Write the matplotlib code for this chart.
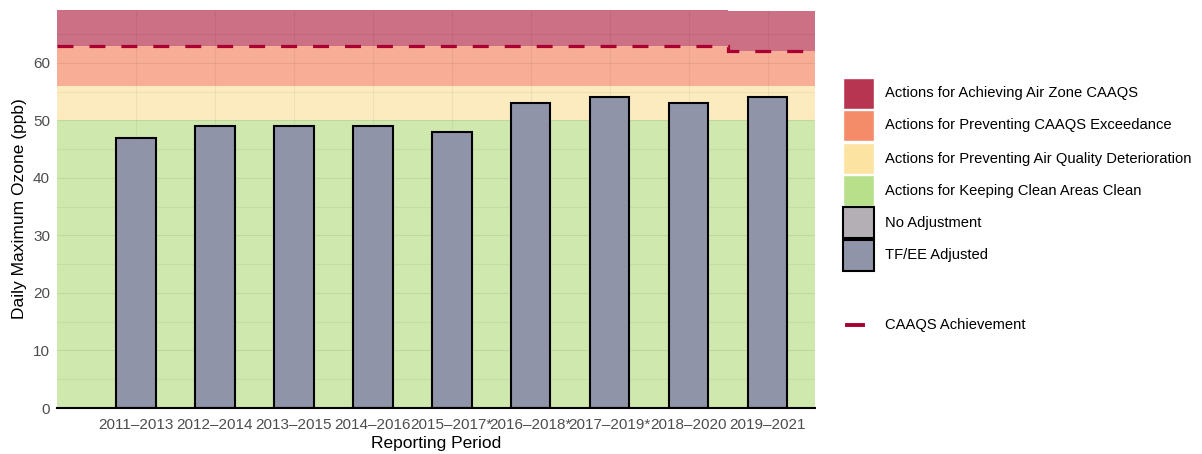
import matplotlib
matplotlib.use("Agg")
import matplotlib.pyplot as plt
import numpy as np
from matplotlib.patches import Rectangle
from matplotlib.lines import Line2D

# --- DATA ---
periods = ["2011\u20132013", "2012\u20132014", "2013\u20132015", "2014\u20132016",
           "2015\u20132017*", "2016\u20132018*", "2017\u20132019*", "2018\u20132020",
           "2019\u20132021"]
ozone = [47, 49, 49, 49, 48, 53, 54, 53, 54]
standard = [63, 63, 63, 63, 63, 63, 63, 63, 62]
band_green = 50
band_yellow = 56
band_top = 69.2

legend_labels = ["Actions for Achieving Air Zone CAAQS",
                 "Actions for Preventing CAAQS Exceedance",
                 "Actions for Preventing Air Quality Deterioration",
                 "Actions for Keeping Clean Areas Clean",
                 "No Adjustment",
                 "TF/EE Adjusted"]

# --- STYLE ---
plt.rcParams['font.family'] = ['Liberation Sans', 'DejaVu Sans']
red_leg, orange_leg, yellow_leg, green_leg = "#B83552", "#F48B69", "#FDE3A1", "#B8E08A"
red_band, orange_band, yellow_band, green_band = "#CC7085", "#F8AE96", "#FDEBC0", "#CFE8AE"
no_adj_col = "#B4AFB5"
tfee_col = "#8F94A8"
line_col = "#A80030"

W, H = 1202, 454
fig = plt.figure(figsize=(W / 100, H / 100), dpi=100)
ax = fig.add_axes([57 / W, 46 / H, (815 - 57) / W, (444 - 46) / H])

x = np.arange(len(periods))
xlo, xhi = -1.0, 8.6
edges = np.concatenate([[xlo], x[:-1] + 0.5, [xhi]])
std_post = np.concatenate([standard, [standard[-1]]])

# bands
ax.fill_between([xlo, xhi], 0, band_green, color=green_band, lw=0, zorder=0)
ax.fill_between([xlo, xhi], band_green, band_yellow, color=yellow_band, lw=0, zorder=0)
ax.fill_between(edges, band_yellow, std_post, step="post", color=orange_band, lw=0, zorder=0)
top_post = np.where(std_post == std_post[0], band_top, band_top - 0.2)
ax.fill_between(edges, std_post, top_post, step="post", color=red_band, lw=0, zorder=0)

# grid lines over bands (faint)
for yv in np.arange(5, 70, 5):
    ax.axhline(yv, color="black", alpha=0.05 if yv % 10 else 0.07, lw=0.8, zorder=0.5)
for xv in x:
    ax.axvline(xv, color="black", alpha=0.05, lw=0.8, zorder=0.5)

# bars
ax.bar(x, ozone, width=0.5, color=tfee_col, edgecolor="black", linewidth=1.5, zorder=2)

# CAAQS achievement line
ax.stairs(standard, edges, baseline=None, color=line_col, lw=2.3,
          linestyle=(0, (5, 5)), zorder=3)

ax.set_xlim(xlo, xhi)
ax.set_ylim(0, band_top)
ax.set_xticks(x)
ax.set_xticklabels(periods)
ax.set_yticks(np.arange(0, 70, 10))
ax.tick_params(axis="both", length=0, labelsize=11, colors="#4D4D4D")
ax.tick_params(axis="x", pad=7)
ax.tick_params(axis="y", pad=5)
for s in ["top", "right", "left"]:
    ax.spines[s].set_visible(False)
ax.spines["bottom"].set_linewidth(1.5)
ax.spines["bottom"].set_zorder(4)
ax.set_xlabel("Reporting Period", fontsize=12.5, labelpad=3)
ax.set_ylabel("Daily Maximum Ozone (ppb)", fontsize=12.5, labelpad=4)

# --- LEGEND (drawn by hand) ---
leg_cols = [red_leg, orange_leg, yellow_leg, green_leg, no_adj_col, tfee_col]
tops = [78, 110, 143, 175, 207, 240]
for lab, col, t in zip(legend_labels, leg_cols, tops):
    boxed = col in (no_adj_col, tfee_col)
    r = Rectangle((843 / W, 1 - (t + 31) / H), 31 / W, 31 / H, transform=fig.transFigure,
                  facecolor=col, edgecolor="black" if boxed else "white",
                  linewidth=1.5 if boxed else 1.0)
    fig.add_artist(r)
    fig.text(885 / W, 1 - (t + 15.5) / H, lab, fontsize=10.6, va="center", ha="left")

fig.add_artist(Line2D([847 / W, 863 / W], [1 - 325 / H, 1 - 325 / H],
                      transform=fig.transFigure, color=line_col, lw=2.8))
fig.text(885 / W, 1 - 325 / H, "CAAQS Achievement", fontsize=10.6, va="center", ha="left")

fig.savefig("out.png", dpi=100)
